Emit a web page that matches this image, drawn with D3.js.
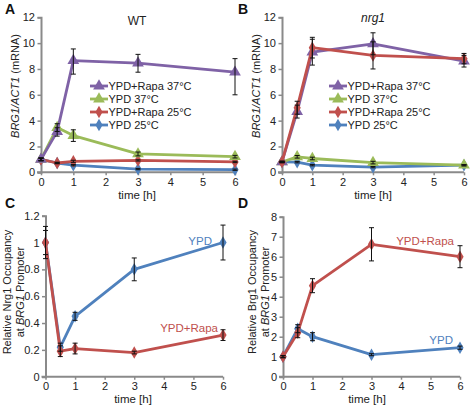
<!DOCTYPE html>
<html><head><meta charset="utf-8">
<script src="https://cdn.jsdelivr.net/npm/d3@7"></script>
<style>body{margin:0;background:#fff;}svg{display:block;font-family:"Liberation Sans",Arial,sans-serif;}</style>
</head><body>
<svg id="c" width="472" height="406"></svg>
<script>
// ---- data ----
const times = [0, 0.5, 1, 3, 6];
const xTicks = [0, 1, 2, 3, 4, 5, 6];
const abTicks = [0, 2, 4, 6, 8, 10, 12];
const cTicks = [0, 0.2, 0.4, 0.6, 0.8, 1, 1.2];
const dTicks = [0, 1, 2, 3, 4, 5, 6, 7, 8];
const legendLabels = ["YPD+Rapa 37°C", "YPD 37°C", "YPD+Rapa 25°C", "YPD 25°C"];

// Panel A (WT)
const wtRapa37 = [1.0, 3.15, 8.65, 8.45, 7.75];
const wtRapa37Up = [0.1, 0.3, 0.9, 0.68, 1.05];
const wtRapa37Dn = [0.1, 0.35, 1.05, 0.7, 1.75];
const wtYpd37 = [1.0, 3.46, 2.84, 1.42, 1.21];
const wtYpd37Err = [0.1, 0.3, 0.45, 0.15, 0.1];
const wtRapa25 = [1.0, 0.72, 0.85, 0.92, 0.8];
const wtRapa25Err = [0.1, 0.05, 0.08, 0.05, 0.05];
const wtYpd25 = [1.0, 0.72, 0.55, 0.25, 0.2];
const wtYpd25Err = [0.1, 0.05, 0.05, 0.05, 0.05];

// Panel B (nrg1)
const nrgRapa37 = [0.8, 4.7, 9.3, 9.95, 8.6];
const nrgRapa37Err = [0.05, 0.5, 1.0, 0.85, 0.45];
const nrgYpd37 = [0.8, 1.2, 1.07, 0.75, 0.55];
const nrgYpd37Err = [0.05, 0.1, 0.1, 0.1, 0.05];
const nrgRapa25 = [0.8, 5.0, 9.65, 9.05, 8.8];
const nrgRapa25Err = [0.05, 0.5, 0.8, 1.05, 0.4];
const nrgYpd25 = [0.8, 0.78, 0.55, 0.4, 0.55];
const nrgYpd25Err = [0.05, 0.05, 0.05, 0.05, 0.05];

// Panel C (Nrg1 occupancy)
const cYpd = [1.0, 0.22, 0.45, 0.8, 1.0];
const cYpdErr = [0.09, 0.03, 0.03, 0.085, 0.13];
const cRapa = [1.0, 0.19, 0.21, 0.18, 0.31];
const cRapaErr = [0.12, 0.04, 0.04, 0.01, 0.04];

// Panel D (Brg1 occupancy)
const dYpd = [1.0, 2.4, 2.0, 1.1, 1.45];
const dYpdErr = [0.05, 0.2, 0.2, 0.05, 0.08];
const dRapa = [1.0, 2.2, 4.55, 6.62, 6.0];
const dRapaErr = [0.05, 0.25, 0.35, 0.83, 0.55];

const PURPLE = "#7f62a6", GREEN = "#9bbb59", RED = "#c0504d", BLUE = "#4f81bd";
const AXIS = "#8a8a8a";

const svg = d3.select("#c");

function sym(type, size){
  if(type==="tri") return d3.symbol(d3.symbolTriangle, size)();
  return d3.symbol(d3.symbolDiamond, size)();
}

function panel(o){
  const g = svg.append("g");
  const x = d3.scaleLinear().domain([0,6]).range(o.xr);
  const y = d3.scaleLinear().domain(o.yd).range(o.yr);
  const ya = g.append("g").attr("transform",`translate(${o.xr[0]},0)`)
    .call(d3.axisLeft(y).tickValues(o.yt).tickSize(3.5).tickPadding(2.5).tickFormat(o.yf||d3.format("")));
  const xa = g.append("g").attr("transform",`translate(0,${o.yr[0]})`)
    .call(d3.axisBottom(x).tickValues(xTicks).tickSize(3).tickPadding(3).tickFormat(d3.format("d")));
  [ya,xa].forEach(a=>{
    a.select(".domain").attr("stroke",AXIS).attr("stroke-width",2);
    a.selectAll(".tick line").attr("stroke",AXIS).attr("stroke-width",1.5);
    a.selectAll(".tick text").attr("fill","#222").style("font-size","11px").style("font-family","Liberation Sans, Arial, sans-serif");
  });
  xa.select(".domain").attr("d",`M${o.xr[0]-4},0H${o.xr[1]}`);
  o.series.forEach(s=>{
    const pts = times.map((t,i)=>({t, v:s.v[i]}));
    g.append("path").datum(pts).attr("fill","none").attr("stroke",s.c).attr("stroke-width",2.8)
      .attr("stroke-linejoin","round")
      .attr("d", d3.line().x(d=>x(d.t)).y(d=>y(d.v)));
    g.selectAll(null).data(pts).enter().append("path")
      .attr("transform",d=>`translate(${x(d.t)},${y(d.v)})`)
      .attr("d", sym(s.m, s.m==="tri"?60:45)).attr("fill",s.c);
  });
  o.series.forEach(s=>{
    const pts = times.map((t,i)=>({t, v:s.v[i], up:s.up[i], dn:s.dn[i]}));
    const eb = g.selectAll(null).data(pts).enter().append("g").attr("stroke","#111").attr("stroke-width",1);
    eb.append("line").attr("x1",d=>x(d.t)).attr("x2",d=>x(d.t)).attr("y1",d=>y(d.v+d.up)).attr("y2",d=>y(d.v-d.dn));
    eb.append("line").attr("x1",d=>x(d.t)-2.5).attr("x2",d=>x(d.t)+2.5).attr("y1",d=>y(d.v+d.up)).attr("y2",d=>y(d.v+d.up));
    eb.append("line").attr("x1",d=>x(d.t)-2.5).attr("x2",d=>x(d.t)+2.5).attr("y1",d=>y(d.v-d.dn)).attr("y2",d=>y(d.v-d.dn));
  });
  g.append("text").attr("x",o.xlab[0]).attr("y",o.xlab[1]).attr("text-anchor","middle")
    .style("font-size","11.5px").attr("fill","#222").text("time [h]");
  return {g,x,y};
}

function legend(g, x0, y0, items){
  items.forEach((it,i)=>{
    const yy = y0 + i*13;
    g.append("line").attr("x1",x0).attr("x2",x0+18).attr("y1",yy).attr("y2",yy).attr("stroke",it.c).attr("stroke-width",2.8);
    g.append("path").attr("transform",`translate(${x0+9},${yy})`).attr("d",sym(it.m, it.m==="tri"?60:45)).attr("fill",it.c);
    g.append("text").attr("x",x0+18.5).attr("y",yy+4).style("font-size","11px").attr("fill","#222").text(it.l);
  });
}

const sym4 = [
  {c:PURPLE,m:"tri"},{c:GREEN,m:"tri"},{c:RED,m:"dia"},{c:BLUE,m:"dia"}
];

// Panel A
const pA = panel({xr:[41,235], yr:[172.3,17.3], yd:[0,12], yt:abTicks, xlab:[137,199],
  series:[
    {v:wtYpd25, up:wtYpd25Err, dn:wtYpd25Err, c:BLUE, m:"dia"},
    {v:wtRapa25, up:wtRapa25Err, dn:wtRapa25Err, c:RED, m:"dia"},
    {v:wtYpd37, up:wtYpd37Err, dn:wtYpd37Err, c:GREEN, m:"tri"},
    {v:wtRapa37, up:wtRapa37Up, dn:wtRapa37Dn, c:PURPLE, m:"tri"}
  ]});
legend(pA.g, 90, 86, legendLabels.map((l,i)=>({l, ...sym4[i]})));
pA.g.append("text").attr("x",137).attr("y",25).attr("text-anchor","middle").style("font-size","12px").attr("fill","#222").text("WT");
{
  const t = pA.g.append("text").attr("transform","translate(19,86) rotate(-90)").attr("text-anchor","middle").style("font-size","11px").attr("fill","#222");
  t.append("tspan").style("font-style","italic").text("BRG1/ACT1");
  t.append("tspan").text(" (mRNA)");
}

// Panel B
const pB = panel({xr:[282,464], yr:[172.3,17.3], yd:[0,12], yt:abTicks, xlab:[373,199],
  series:[
    {v:nrgYpd25, up:nrgYpd25Err, dn:nrgYpd25Err, c:BLUE, m:"dia"},
    {v:nrgYpd37, up:nrgYpd37Err, dn:nrgYpd37Err, c:GREEN, m:"tri"},
    {v:nrgRapa37, up:nrgRapa37Err, dn:nrgRapa37Err, c:PURPLE, m:"tri"},
    {v:nrgRapa25, up:nrgRapa25Err, dn:nrgRapa25Err, c:RED, m:"dia"}
  ]});
legend(pB.g, 329, 86, legendLabels.map((l,i)=>({l, ...sym4[i]})));
pB.g.append("text").attr("x",373).attr("y",22).attr("text-anchor","middle").style("font-size","12px").style("font-style","italic").attr("fill","#222").text("nrg1");
{
  const t = pB.g.append("text").attr("transform","translate(260,86) rotate(-90)").attr("text-anchor","middle").style("font-size","11px").attr("fill","#222");
  t.append("tspan").style("font-style","italic").text("BRG1/ACT1");
  t.append("tspan").text(" (mRNA)");
}

// Panel C
const fmtC = d => d===0 ? "0" : (d===1 ? "1" : d3.format(".1f")(d));
const pC = panel({xr:[45.5,223], yr:[376.7,215.7], yd:[0,1.2], yt:cTicks, yf:fmtC, xlab:[133,402.5],
  series:[
    {v:cYpd, up:cYpdErr, dn:cYpdErr, c:BLUE, m:"dia"},
    {v:cRapa, up:cRapaErr, dn:cRapaErr, c:RED, m:"dia"}
  ]});
pC.g.append("text").attr("x",212).attr("y",245).attr("text-anchor","end").style("font-size","11.5px").attr("fill",BLUE).text("YPD");
pC.g.append("text").attr("x",218).attr("y",332).attr("text-anchor","end").style("font-size","11.5px").attr("fill",RED).text("YPD+Rapa");
{
  pC.g.append("text").attr("transform","translate(11,292) rotate(-90)").attr("text-anchor","middle").style("font-size","11px").attr("fill","#222").text("Relative Nrg1 Occupancy");
  const t2 = pC.g.append("text").attr("transform","translate(24,292) rotate(-90)").attr("text-anchor","middle").style("font-size","11px").attr("fill","#222");
  t2.append("tspan").text("at ");
  t2.append("tspan").style("font-style","italic").text("BRG1");
  t2.append("tspan").text(" Promoter");
}

// Panel D
const pD = panel({xr:[283,460], yr:[376.7,216.7], yd:[0,8], yt:dTicks, xlab:[367,402.5],
  series:[
    {v:dYpd, up:dYpdErr, dn:dYpdErr, c:BLUE, m:"dia"},
    {v:dRapa, up:dRapaErr, dn:dRapaErr, c:RED, m:"dia"}
  ]});
pD.g.append("text").attr("x",454).attr("y",245).attr("text-anchor","end").style("font-size","11.5px").attr("fill",RED).text("YPD+Rapa");
pD.g.append("text").attr("x",453).attr("y",344).attr("text-anchor","end").style("font-size","11.5px").attr("fill",BLUE).text("YPD");
{
  pD.g.append("text").attr("transform","translate(256,292) rotate(-90)").attr("text-anchor","middle").style("font-size","11px").attr("fill","#222").text("Relative Brg1 Occupancy");
  const t2 = pD.g.append("text").attr("transform","translate(269,292) rotate(-90)").attr("text-anchor","middle").style("font-size","11px").attr("fill","#222");
  t2.append("tspan").text("at ");
  t2.append("tspan").style("font-style","italic").text("BRG1");
  t2.append("tspan").text(" Promoter");
}

// Panel letters
[["A",5,14],["B",238,14],["C",5,208],["D",238,208]].forEach(([l,x,y])=>{
  svg.append("text").attr("x",x).attr("y",y).style("font-size","14px").style("font-weight","bold").attr("fill","#111").text(l);
});
</script>
</body></html>
